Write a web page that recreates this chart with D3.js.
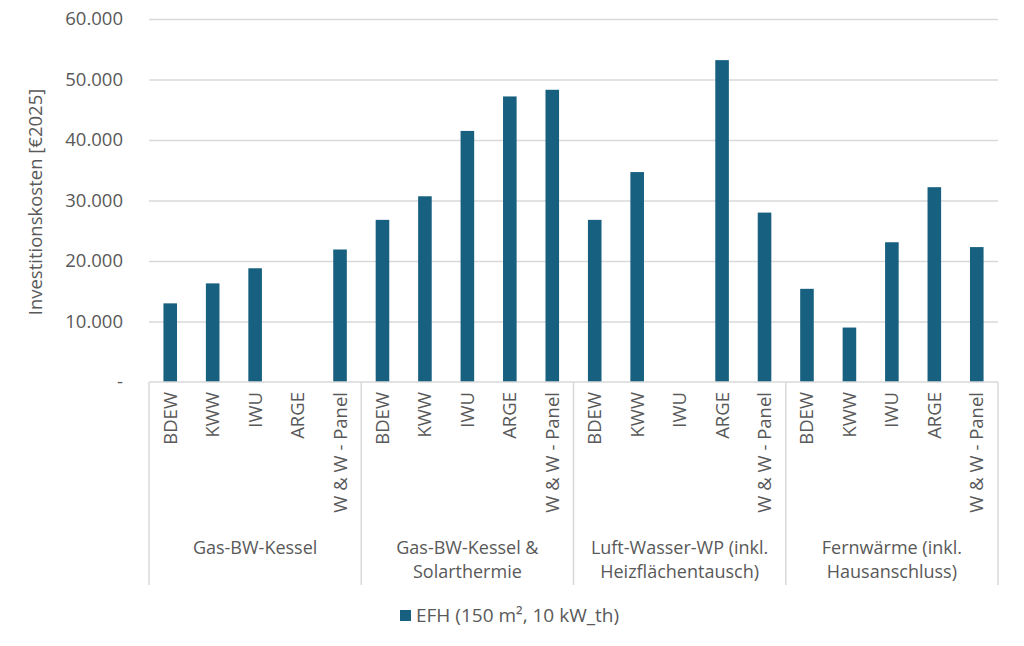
<!DOCTYPE html>
<html>
<head>
<meta charset="utf-8">
<script src="https://cdn.jsdelivr.net/npm/d3@7"></script>
<style>
  body { margin: 0; background: #fff; }
  text { font-family: "Open Sans", "Noto Sans", sans-serif; fill: #595959; }
</style>
</head>
<body>
<div id="chart"></div>
<script>
const groupLabels = [
    ["Gas-BW-Kessel"],
    ["Gas-BW-Kessel &", "Solarthermie"],
    ["Luft-Wasser-WP (inkl.", "Heizflächentausch)"],
    ["Fernwärme (inkl.", "Hausanschluss)"]
];
const sources = ["BDEW", "KWW", "IWU", "ARGE", "W & W - Panel"];
const gasValues = [13000, 16300, 18800, null, 21900];
const solarValues = [26800, 30700, 41500, 47200, 48300];
const wpValues = [26800, 34700, null, 53200, 28000];
const fwValues = [15400, 9000, 23100, 32200, 22300];
const yTicks = [0, 10000, 20000, 30000, 40000, 50000, 60000];
const seriesName = "EFH (150 m², 10 kW_th)";
const yTitle = "Investitionskosten [€2025]";

const margins = {top: 19, left: 149, right: 26, bottom: 264};
const W = 1024, H = 646;
const width = W - margins.left - margins.right;
const height = H - margins.top - margins.bottom;
const barColor = "#176080";
const lineColor = "#d9d9d9";

const valueSets = [gasValues, solarValues, wpValues, fwValues];
const data = [];
valueSets.forEach((vals, g) => {
    sources.forEach((s, i) => data.push({group: g, source: s, key: g + "|" + s, value: vals[i]}));
});

const svg = d3.select('#chart').append('svg').attr('width', W).attr('height', H)
    .append('g').attr('transform', `translate(${margins.left}, ${margins.top})`);

const x = d3.scaleBand().domain(data.map(d => d.key)).range([0, width]).paddingInner(0.68).paddingOuter(0.34);
const y = d3.scaleLinear().domain([0, 60000]).range([height, 0]);

const loc = d3.formatLocale({decimal: ",", thousands: ".", grouping: [3], currency: ["", "€"]});
const fmt = loc.format(",.0f");

// gridlines
svg.append('g')
    .call(d3.axisLeft(y).tickValues(yTicks.slice(1)).tickSize(-width).tickFormat(''))
    .call(g => g.select('.domain').remove())
    .call(g => g.selectAll('line').attr('stroke', lineColor).attr('stroke-width', 1.5));

// y axis labels
svg.append('g')
    .call(d3.axisLeft(y).tickValues(yTicks).tickSize(0).tickPadding(26).tickFormat(d => d === 0 ? "-" : fmt(d)))
    .call(g => g.select('.domain').remove())
    .call(g => g.selectAll('text').style('font-size', '18.5px').style('fill', '#595959'));

svg.append('text')
    .attr('transform', `translate(${37 - margins.left}, ${202 - margins.top}) rotate(-90)`)
    .attr('text-anchor', 'middle')
    .attr('dominant-baseline', 'middle')
    .style('font-size', '18.5px')
    .text(yTitle);

// bars
svg.selectAll('.bar')
    .data(data.filter(d => d.value != null))
    .enter()
    .append('rect')
    .attr('class', 'bar')
    .attr('x', d => x(d.key))
    .attr('width', x.bandwidth())
    .attr('y', d => y(d.value))
    .attr('height', d => height - y(d.value))
    .attr('fill', barColor);

// category axis line
svg.append('line')
    .attr('x1', 0).attr('x2', width).attr('y1', height).attr('y2', height)
    .attr('stroke', lineColor).attr('stroke-width', 1.5);

// group separators
const groupW = width / groupLabels.length;
d3.range(groupLabels.length + 1).forEach(i => {
    svg.append('line')
        .attr('x1', i * groupW).attr('x2', i * groupW)
        .attr('y1', height).attr('y2', height + 203)
        .attr('stroke', lineColor).attr('stroke-width', 1.5);
});

// source labels
svg.selectAll('.src')
    .data(data)
    .enter()
    .append('text')
    .attr('class', 'src')
    .attr('transform', d => `translate(${x(d.key) + x.bandwidth() / 2 + 6.5}, ${height + 10}) rotate(-90)`)
    .attr('text-anchor', 'end')
    .style('font-size', '18.5px')
    .text(d => d.source);

// group labels
groupLabels.forEach((lines, i) => {
    const t = svg.append('text')
        .attr('x', (i + 0.5) * groupW)
        .attr('y', 554 - margins.top)
        .attr('text-anchor', 'middle')
        .style('font-size', '18px');
    lines.forEach((l, j) => {
        t.append('tspan').attr('x', (i + 0.5) * groupW).attr('dy', j === 0 ? 0 : 24).text(l);
    });
});

// legend
const legend = svg.append('g').attr('transform', `translate(${400 - margins.left}, ${610 - margins.top})`);
legend.append('rect').attr('width', 11).attr('height', 11).attr('fill', barColor);
legend.append('text').attr('x', 16).attr('y', 12).style('font-size', '19px').text(seriesName);
</script>
</body>
</html>
